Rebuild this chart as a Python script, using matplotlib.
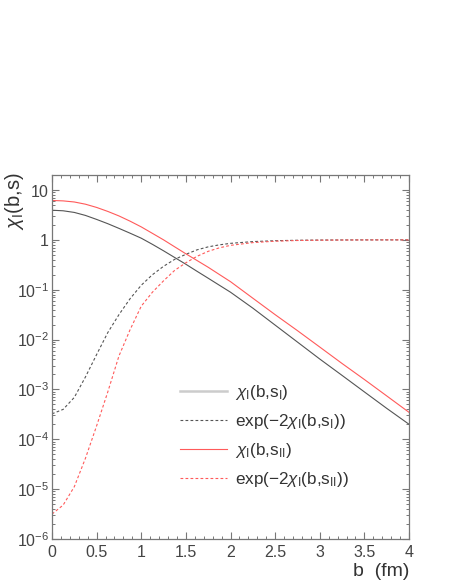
import matplotlib
matplotlib.use("Agg")
import matplotlib.pyplot as plt
from matplotlib.ticker import FixedLocator, MultipleLocator, FixedFormatter
from matplotlib.lines import Line2D

# impact parameter grid (fm)
b = [0.0, 0.125, 0.25, 0.375, 0.5, 0.625, 0.75, 0.875, 1.0,
     1.125, 1.25, 1.375, 1.5, 1.625, 1.75, 1.875, 2.0,
     2.25, 2.5, 2.75, 3.0, 3.25, 3.5, 3.75, 4.0]

# chi_I(b, s_I) and chi_I(b, s_II)
chi_s1 = [3.93, 3.83, 3.55, 3.09, 2.57, 2.11, 1.70, 1.36, 1.08,
          0.813, 0.603, 0.442, 0.324, 0.234, 0.170, 0.123, 0.0891,
          0.0427, 0.0195, 8.91e-3, 4.07e-3, 1.91e-3, 8.91e-4, 4.17e-4, 2.0e-4]
chi_s2 = [6.17, 6.05, 5.75, 5.19, 4.47, 3.72, 3.02, 2.37, 1.82,
          1.35, 1.0, 0.724, 0.525, 0.385, 0.282, 0.202, 0.145,
          0.0676, 0.0316, 0.0151, 7.08e-3, 3.31e-3, 1.58e-3, 7.41e-4, 3.47e-4]

# exp(-2 chi) curves
exp_s1 = [3.24e-4, 3.98e-4, 6.92e-4, 1.78e-3, 5.01e-3, 0.0138, 0.0316, 0.0661,
          0.123, 0.200, 0.295, 0.407, 0.513, 0.631, 0.724, 0.794, 0.851,
          0.923, 0.962, 0.982, 0.991, 0.995, 0.998, 0.999, 0.9993]
exp_s2 = [3.16e-6, 4.79e-6, 1.12e-5, 4.17e-5, 1.86e-4, 8.91e-4, 4.68e-3, 0.0158,
          0.0468, 0.0891, 0.151, 0.245, 0.347, 0.468, 0.589, 0.692, 0.776,
          0.881, 0.940, 0.971, 0.986, 0.993, 0.9966, 0.998, 0.999]

x_ticks = [0, 0.5, 1, 1.5, 2, 2.5, 3, 3.5, 4]
x_ticklabels = ["0", "0.5", "1", "1.5", "2", "2.5", "3", "3.5", "4"]
y_ticks = [1e-6, 1e-5, 1e-4, 1e-3, 1e-2, 1e-1, 1, 10]
y_ticklabels = [r"$10^{-6}$", r"$10^{-5}$", r"$10^{-4}$", r"$10^{-3}$",
                r"$10^{-2}$", r"$10^{-1}$", r"$1\ \ \ $", r"$10\ \ \ $"]

labels = [r"$\chi_{\rm I}$(b,s$_{\rm I}$)",
          r"exp($-2\chi_{\rm I}$(b,s$_{\rm I}$))",
          r"$\chi_{\rm I}$(b,s$_{\rm II}$)",
          r"exp($-2\chi_{\rm I}$(b,s$_{\rm II}$))"]

dark = "#555555"
red = "#ff5a5a"
frame = "#777777"
dash = (0, (2.5, 2))

plt.rcParams["font.family"] = ["Liberation Sans", "DejaVu Sans"]
plt.rcParams["mathtext.fontset"] = "custom"
plt.rcParams["mathtext.rm"] = "Liberation Sans"
plt.rcParams["mathtext.it"] = "Liberation Sans:italic"
plt.rcParams["mathtext.bf"] = "Liberation Sans:bold"

fig = plt.figure(figsize=(4.49, 5.81), dpi=100)
ax = fig.add_axes([0.1158, 0.0723, 0.7952, 0.6265])

ax.plot(b, chi_s1, color=dark, lw=0.8)
ax.plot(b, exp_s1, color=dark, lw=0.8, ls=dash)
ax.plot(b, chi_s2, color=red, lw=0.8)
ax.plot(b, exp_s2, color=red, lw=0.8, ls=dash)

ax.set_yscale("log")
ax.set_xlim(0, 4)
ax.set_ylim(1e-6, 20)

ax.set_xticks(x_ticks)
ax.set_xticklabels(x_ticklabels)
ax.xaxis.set_minor_locator(MultipleLocator(0.1))
ax.yaxis.set_major_locator(FixedLocator(y_ticks))
ax.yaxis.set_major_formatter(FixedFormatter(y_ticklabels))

for s in ax.spines.values():
    s.set_color(frame)
    s.set_linewidth(0.9)
ax.tick_params(which="both", direction="in", top=True, right=True,
               color=frame, labelcolor="#444444", labelsize=11.5)
ax.tick_params(which="major", length=5, width=0.8)
ax.tick_params(which="minor", length=2.5, width=0.7)
ax.tick_params(axis="x", pad=4)
ax.tick_params(axis="y", pad=2)

# axis titles placed ROOT-style at the far ends
fig.text(409 / 449, 1 - 576 / 581, "b  (fm)", fontsize=14, color="#333333",
         ha="right", va="baseline")
fig.text(3 / 449, 1 - 172 / 581, r"$\chi_{\rm I}$(b,s)", fontsize=14.5,
         color="#333333", rotation=90, ha="left", va="top")

handles = [Line2D([], [], color="#cccccc", lw=1.8),
           Line2D([], [], color=dark, lw=0.8, ls=dash),
           Line2D([], [], color=red, lw=0.8),
           Line2D([], [], color=red, lw=0.8, ls=dash)]
leg = ax.legend(handles, labels, loc="upper left", bbox_to_anchor=(0.316, 0.472),
                frameon=False, fontsize=12.3, handlelength=2.75, handletextpad=0.45,
                labelspacing=0.6)
for t in leg.get_texts():
    t.set_color("#333333")

fig.savefig("out.png", dpi=100)
